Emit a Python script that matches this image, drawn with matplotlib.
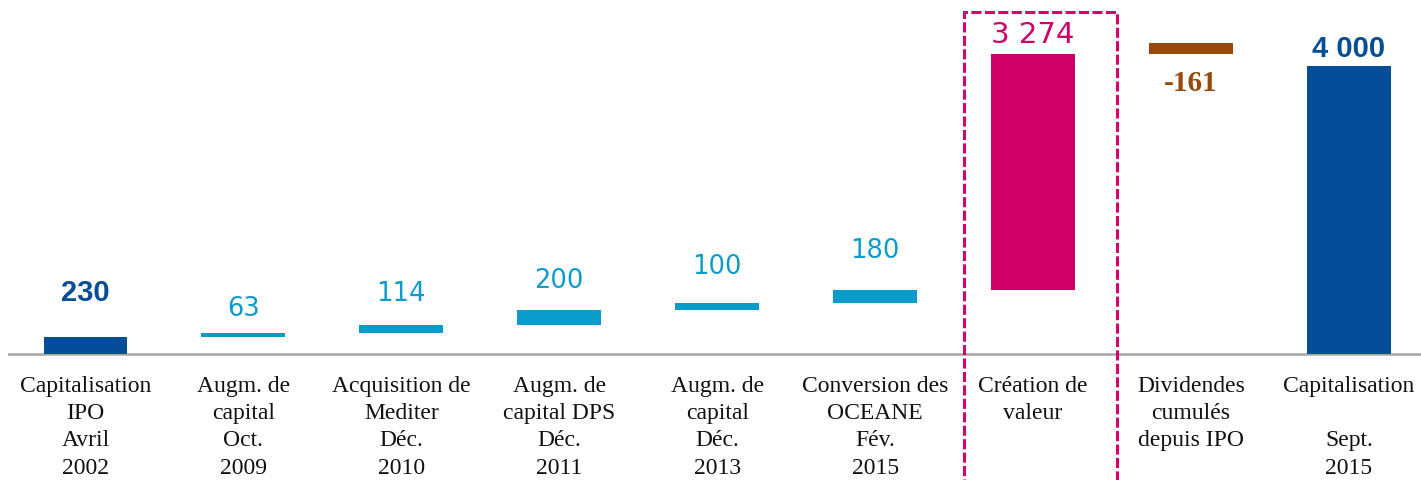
import matplotlib.pyplot as plt
from matplotlib.patches import Rectangle

# Waterfall data (M EUR)
steps = [
    "Capitalisation\nIPO\nAvril\n2002",
    "Augm. de\ncapital\nOct.\n2009",
    "Acquisition de\nMediter\nDéc.\n2010",
    "Augm. de\ncapital DPS\nDéc.\n2011",
    "Augm. de\ncapital\nDéc.\n2013",
    "Conversion des\nOCEANE\nFév.\n2015",
    "Création de\nvaleur",
    "Dividendes\ncumulés\ndepuis IPO",
    "Capitalisation\n\nSept.\n2015",
]
values = [230, 63, 114, 200, 100, 180, 3274, -161, 4000]
value_labels = ["230", "63", "114", "200", "100", "180", "3 274", "-161", "4 000"]
kinds = ["total", "inc", "inc", "inc", "inc", "inc", "creation", "dividend", "total"]

colors = {"total": "#034E96", "inc": "#0A9BCB", "creation": "#CC0066", "dividend": "#97480B"}
label_fonts = {
    "total": dict(family="Liberation Sans", weight="bold", size=21),
    "inc": dict(family="DejaVu Sans", size=18.5),
    "creation": dict(family="DejaVu Sans", size=21),
    "dividend": dict(family="Liberation Serif", weight="bold", size=21),
}
# vertical gap between bar and its value label, in points
label_gap = [32, 17, 22, 21, 26, 28, 14, -21, 12]

fig = plt.figure(figsize=(14.21, 4.8), dpi=100)
ax = fig.add_axes([8 / 1421, 0, 1413 / 1421, 1])
ax.set_xlim(-0.49, 8.456)
ax.set_ylim(-1750, 4917)
ax.axis("off")

running = 0
for i, (val, kind) in enumerate(zip(values, kinds)):
    if kind == "total":
        bottom, height = 0, val
        running = val
    elif kind == "dividend":
        # drawn upward from the running total, as in the original
        bottom, height = running, abs(val)
        running += val
    else:
        bottom, height = running, val
        running += val
    ax.bar(i, height, bottom=bottom, width=0.53, color=colors[kind])

    if label_gap[i] >= 0:
        anchor = bottom + height
    else:
        anchor = bottom
    ax.annotate(value_labels[i], (i, anchor), xytext=(0, label_gap[i]),
                textcoords="offset points", ha="center", va="center",
                color=colors[kind], **label_fonts[kind])

    ax.annotate(steps[i], (i, 0), xytext=(0, -15.5), textcoords="offset points",
                ha="center", va="top", family="Liberation Serif", size=17,
                linespacing=1.4, color="#111111")

ax.axhline(0, color="#A6A6A6", lw=1.8, zorder=0)

# dashed frame around the value-creation step
box = Rectangle((5.565, -3000), 0.965, 4750 + 3000, fill=False,
                edgecolor="#D5006D", lw=2.2, linestyle=(0, (3.3, 1.1)), clip_on=False)
ax.add_patch(box)

fig.savefig("out.png", dpi=100)
